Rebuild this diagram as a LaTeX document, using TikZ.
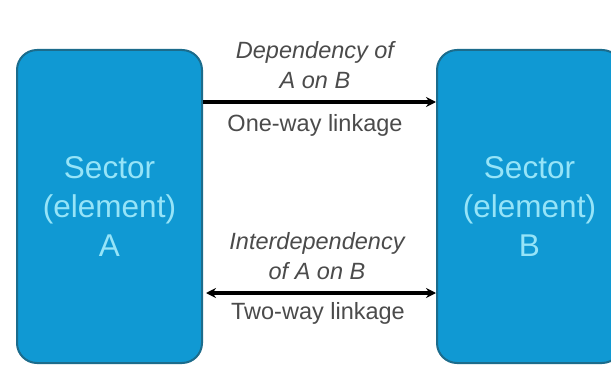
\documentclass[tikz,border=0pt]{standalone}
\usepackage{fontspec}
\setmainfont{Liberation Sans}
\usetikzlibrary{arrows.meta}
\definecolor{boxfill}{RGB}{16,153,211}
\definecolor{boxline}{RGB}{28,108,140}
\definecolor{boxtext}{RGB}{150,228,248}
\definecolor{captext}{RGB}{75,75,75}
\tikzset{
  sectorbox/.style={draw=boxline, line width=2pt, fill=boxfill, rounded corners=20pt,
    minimum width=185pt, minimum height=313pt, inner sep=0pt, align=center,
    text=boxtext, font=\fontsize{31.5}{39}\selectfont},
  deplabel/.style={align=center, text=captext, inner sep=0pt, font=\fontsize{23.5}{30}\selectfont\itshape},
  linklabel/.style={align=center, text=captext, inner sep=0pt, font=\fontsize{23.5}{30}\selectfont},
  linkarrow/.style={line width=3.6pt, black, -{Stealth[length=10pt,width=10pt]}},
  twoarrow/.style={line width=3.6pt, black, {Stealth[length=10pt,width=10pt]}-{Stealth[length=10pt,width=10pt]}}
}
\begin{document}
\begin{tikzpicture}[x=1pt,y=1pt]
\useasboundingbox (0,0) rectangle (611,365);
\clip (0,0) rectangle (611,365);
\fill[white] (0,0) rectangle (611,365);
\node[sectorbox] (A) at (109.5,158.5) {Sector\\(element)\\A};
\node[sectorbox] (B) at (529.5,158.5) {Sector\\(element)\\B};
\coordinate (t1) at (A.east |- 0,263);
\coordinate (t2) at (B.west |- 0,263);
\coordinate (b1) at (A.east |- 0,72);
\coordinate (b2) at (B.west |- 0,72);
\draw[linkarrow] (t1) -- (t2);
\draw[twoarrow, shorten <=3pt] (b1) -- (b2);
\node[deplabel] (d1) at (315,300) {Dependency of\\A on B};
\node[linklabel] (l1) at (315,240) {One-way linkage};
\node[deplabel] (d2) at (317,109) {Interdependency\\of A on B};
\node[linklabel] (l2) at (318,52) {Two-way linkage};
\end{tikzpicture}
\end{document}
